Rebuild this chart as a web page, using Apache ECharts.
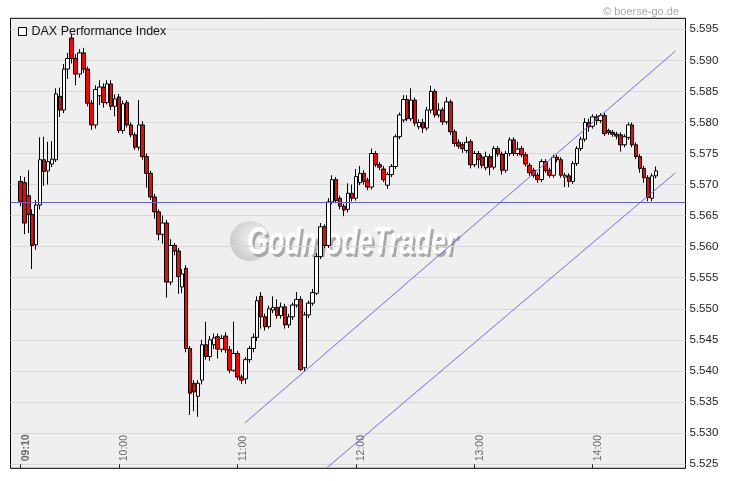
<!DOCTYPE html>
<html><head><meta charset="utf-8">
<script src="https://cdn.jsdelivr.net/npm/echarts@6/dist/echarts.min.js"></script>
<style>html,body{margin:0;padding:0;background:#fff}#c{width:730px;height:481px}</style>
</head><body><div id="c"></div>
<script>
// time slots (2-minute bars) shown on the axis
const firstSlot = '09:06';
const slotCount = 171;
const tickLabels = ['09:10','10:00','11:00','12:00','13:00','14:00'];
const yTicks = {min: 5525, max: 5595, step: 5};
const prevClose = 5567.2;
// [time, open, close, low, high]
const ohlc = [
['09:10',5570.5,5567.3,5566.5,5571.4],['09:12',5570.3,5563.8,5562.0,5571.2],['09:14',5568.2,5565.2,5562.2,5572.3],
['09:16',5565.2,5560.2,5556.4,5566.0],['09:18',5560.3,5566.7,5559.5,5567.5],['09:20',5566.7,5574.0,5566.0,5577.6],
['09:22',5574.0,5572.1,5569.8,5577.7],['09:24',5572.2,5573.7,5570.0,5576.9],['09:26',5573.3,5574.1,5572.8,5577.0],
['09:28',5574.0,5584.6,5573.6,5585.5],['09:30',5584.2,5582.0,5580.9,5585.6],['09:32',5582.0,5588.6,5581.5,5589.4],
['09:34',5588.6,5590.3,5587.0,5591.2],['09:36',5593.6,5590.3,5589.5,5594.3],['09:38',5590.3,5587.8,5586.0,5591.0],
['09:40',5587.8,5591.2,5587.2,5591.8],['09:42',5591.2,5588.6,5588.0,5592.0],['09:44',5588.6,5583.1,5582.6,5589.0],
['09:46',5583.1,5579.6,5578.8,5583.6],['09:48',5579.6,5585.3,5579.0,5586.0],['09:50',5584.3,5585.7,5582.8,5586.8],
['09:52',5585.7,5583.2,5582.4,5586.3],['09:54',5583.2,5586.2,5582.9,5586.8],['09:56',5586.2,5582.6,5582.0,5586.8],
['09:58',5582.6,5583.8,5581.0,5584.5],['10:00',5584.1,5578.7,5578.3,5584.6],['10:02',5578.7,5583.0,5578.2,5583.5],
['10:04',5583.2,5579.6,5579.2,5583.6],['10:06',5579.6,5578.0,5577.6,5580.0],['10:08',5578.0,5576.0,5575.6,5578.4],
['10:10',5576.0,5579.6,5575.5,5583.6],['10:12',5579.6,5574.5,5574.0,5580.2],['10:14',5574.5,5571.8,5569.5,5575.0],
['10:16',5571.8,5568.0,5567.5,5572.2],['10:18',5568.0,5565.6,5564.5,5568.5],['10:20',5565.6,5562.0,5561.0,5566.0],
['10:22',5562.0,5563.8,5560.5,5565.0],['10:24',5563.8,5554.3,5551.8,5564.3],['10:26',5554.3,5560.2,5553.8,5561.2],
['10:28',5560.2,5559.3,5558.6,5560.6],['10:30',5559.3,5555.2,5552.4,5559.8],['10:32',5553.5,5555.6,5552.5,5556.4],
['10:34',5556.5,5543.6,5543.0,5557.0],['10:36',5543.6,5536.4,5532.9,5544.0],['10:38',5538.0,5536.6,5533.5,5538.5],
['10:40',5535.9,5538.0,5532.6,5538.5],['10:42',5538.5,5544.2,5537.8,5545.0],['10:44',5544.2,5542.3,5541.8,5547.9],
['10:46',5542.3,5545.0,5541.6,5545.6],['10:48',5544.2,5545.3,5543.5,5546.0],['10:50',5545.5,5543.5,5542.0,5546.0],
['10:52',5543.5,5545.2,5543.0,5545.8],['10:54',5545.6,5543.4,5542.9,5546.2],['10:56',5543.4,5540.1,5539.6,5544.0],
['10:58',5540.1,5542.8,5539.8,5547.9],['11:00',5542.8,5539.0,5538.5,5543.2],['11:02',5539.0,5538.5,5537.9,5539.4],
['11:04',5538.7,5541.8,5537.9,5542.2],['11:06',5541.8,5543.6,5541.3,5544.0],['11:08',5543.6,5545.4,5543.0,5546.0],
['11:10',5545.4,5551.3,5544.8,5552.0],['11:12',5552.0,5548.7,5546.8,5552.7],['11:14',5548.7,5547.1,5546.5,5549.2],
['11:16',5547.1,5550.0,5546.8,5550.5],['11:18',5549.8,5550.2,5549.3,5552.0],['11:20',5550.2,5548.9,5548.4,5551.5],
['11:22',5548.9,5550.3,5548.4,5551.0],['11:24',5550.3,5547.4,5546.8,5550.8],['11:26',5547.4,5548.7,5546.9,5549.2],
['11:28',5548.7,5550.6,5548.2,5551.0],['11:30',5550.6,5551.5,5550.2,5552.7],['11:32',5551.5,5540.2,5540.0,5552.0],
['11:34',5540.5,5549.0,5540.0,5549.5],['11:36',5549.0,5550.9,5548.5,5551.3],['11:38',5550.9,5552.6,5550.5,5553.2],
['11:40',5552.5,5558.4,5552.2,5559.0],['11:42',5558.4,5563.2,5558.0,5563.8],['11:44',5563.2,5560.2,5559.8,5563.6],
['11:46',5560.2,5567.2,5559.8,5567.8],['11:48',5567.2,5570.8,5566.8,5571.5],['11:50',5570.8,5567.4,5567.0,5571.2],
['11:52',5567.8,5566.5,5566.0,5568.2],['11:54',5566.5,5565.9,5564.9,5566.9],['11:56',5566.0,5568.6,5565.5,5570.2],
['11:58',5568.6,5567.8,5567.3,5570.0],['12:00',5567.8,5571.3,5567.4,5572.5],['12:02',5570.3,5571.8,5569.9,5573.0],
['12:04',5571.8,5570.5,5570.0,5572.3],['12:06',5570.7,5569.6,5569.1,5571.1],['12:08',5569.6,5575.0,5569.2,5575.8],
['12:10',5575.0,5573.2,5572.8,5575.4],['12:12',5573.2,5572.8,5572.3,5573.6],['12:14',5572.5,5570.8,5570.4,5573.0],
['12:16',5569.9,5571.6,5569.3,5572.0],['12:18',5571.6,5572.9,5571.2,5573.3],['12:20',5572.9,5577.7,5572.5,5578.1],
['12:22',5577.7,5581.2,5577.3,5581.6],['12:24',5580.4,5583.7,5580.0,5584.4],['12:26',5583.7,5580.6,5580.2,5584.4],
['12:28',5580.6,5583.6,5580.2,5585.5],['12:30',5583.6,5579.9,5579.4,5584.0],['12:32',5579.3,5580.0,5578.9,5580.5],
['12:34',5580.0,5579.1,5578.3,5580.6],['12:36',5579.1,5582.0,5578.7,5582.5],['12:38',5582.0,5585.0,5581.5,5585.9],
['12:40',5585.0,5581.2,5580.8,5585.4],['12:42',5581.2,5582.0,5580.8,5583.1],['12:44',5582.0,5580.1,5579.6,5582.4],
['12:46',5580.1,5583.3,5579.7,5584.1],['12:48',5583.3,5578.5,5578.0,5583.7],['12:50',5578.5,5576.6,5576.1,5578.9],
['12:52',5576.8,5576.2,5575.8,5577.3],['12:54',5576.4,5575.8,5575.1,5576.8],['12:56',5575.5,5576.8,5575.1,5577.7],
['12:58',5576.9,5573.2,5572.6,5577.3],['13:00',5573.2,5575.0,5572.8,5575.4],['13:02',5575.0,5574.0,5572.6,5575.4],
['13:04',5574.4,5573.1,5572.6,5574.8],['13:06',5572.7,5574.5,5572.3,5575.3],['13:08',5574.5,5572.8,5571.5,5574.9],
['13:10',5572.8,5575.8,5572.4,5576.2],['13:12',5575.8,5574.9,5574.5,5576.2],['13:14',5574.9,5572.3,5571.6,5575.3],
['13:16',5572.3,5575.0,5571.9,5575.4],['13:18',5575.0,5577.2,5574.6,5577.6],['13:20',5577.2,5575.0,5574.6,5577.6],
['13:22',5575.0,5575.7,5574.6,5576.9],['13:24',5575.8,5574.8,5574.4,5576.2],['13:26',5574.8,5573.3,5572.9,5575.2],
['13:28',5573.1,5571.9,5571.4,5573.5],['13:30',5572.3,5571.5,5571.1,5572.7],['13:32',5571.5,5570.8,5570.3,5571.9],
['13:34',5570.8,5573.7,5570.4,5574.1],['13:36',5573.7,5572.3,5571.9,5574.1],['13:38',5572.3,5571.5,5571.1,5572.7],
['13:40',5571.5,5574.4,5571.1,5574.8],['13:42',5574.4,5574.0,5573.6,5574.8],['13:44',5574.0,5571.5,5571.1,5574.4],
['13:46',5571.2,5571.5,5569.6,5571.9],['13:48',5571.4,5570.5,5569.6,5571.8],['13:50',5570.5,5573.4,5570.1,5573.8],
['13:52',5573.4,5575.8,5573.0,5576.2],['13:54',5575.8,5577.3,5575.4,5577.7],['13:56',5577.3,5580.0,5576.9,5580.7],
['13:58',5580.0,5579.3,5578.5,5580.6],['14:00',5579.4,5580.9,5579.0,5581.3],['14:02',5580.9,5580.3,5579.6,5581.3],
['14:04',5580.3,5581.1,5579.9,5581.5],['14:06',5581.1,5578.2,5577.8,5581.5],['14:08',5578.7,5578.4,5578.0,5579.0],
['14:10',5578.4,5578.1,5577.7,5578.8],['14:12',5578.1,5577.8,5577.3,5578.5],['14:14',5578.0,5576.4,5575.3,5578.4],
['14:16',5576.4,5577.7,5576.0,5578.1],['14:18',5577.6,5579.6,5577.2,5580.0],['14:20',5579.6,5576.4,5576.0,5580.0],
['14:22',5576.4,5574.5,5574.1,5576.8],['14:24',5574.5,5572.6,5571.9,5574.9],['14:26',5572.6,5571.1,5570.3,5573.0],
['14:28',5571.1,5567.9,5567.3,5571.5],['14:30',5567.8,5571.4,5567.3,5571.8],['14:32',5571.4,5572.2,5571.0,5572.9]
];
// trend lines: [minutes after 09:00, price]
const upperTrend = [[123.7, 5531.6], [341.9, 5591.5]];
const lowerTrend = [[165.3, 5524.4], [341.9, 5571.9]];

const pad = n => (n < 10 ? '0' : '') + n;
const categories = [];
{
  const [h0, m0] = firstSlot.split(':').map(Number);
  for (let i = 0; i < slotCount; i++) {
    const t = h0 * 60 + m0 + 2 * i;
    categories.push(pad(Math.floor(t / 60)) + ':' + pad(t % 60));
  }
}
const byTime = {};
ohlc.forEach(r => { byTime[r[0]] = [r[1], r[2], r[3], r[4]]; });
const candleData = categories.map(c => byTime[c] || '-');
const [fh, fm] = firstSlot.split(':').map(Number);
const minuteMin = fh * 60 + fm - 1 - 540;
const minuteMax = minuteMin + slotCount * 2;

// plot geometry
const PL = 10.5, PT = 18.3, PW = 675, PH = 450;
const pxPerPt = 434.7 / 70;
const yMax = yTicks.max + (29.3 - PT) / pxPerPt;
const yMin = yTicks.min - (PT + PH - 464) / pxPerPt;

const chart = echarts.init(document.getElementById('c'), null, {renderer: 'canvas'});
const FONT = '"Liberation Sans", Arial, sans-serif';
const WM_FONT = 'italic bold 38px "Liberation Sans", Arial, sans-serif';
chart.setOption({
  animation: false,
  backgroundColor: '#ffffff',
  title: {text: '\u00a9 boerse-go.de', right: 46, top: 1,
    textStyle: {fontSize: 11, color: '#a8a8a8', fontWeight: 'normal', fontFamily: FONT}},
  legend: {left: 13, top: 20, itemWidth: 8, itemHeight: 8, itemGap: 6, selectedMode: false,
    textStyle: {fontSize: 12.5, color: '#111', fontFamily: FONT, padding: [0, 0, 0, 0]},
    data: [{name: 'DAX Performance Index', icon: 'rect',
      itemStyle: {color: '#ffffff', borderColor: '#000', borderWidth: 1}}]},
  grid: [
    {left: PL, top: PT, width: PW, height: PH, show: true, backgroundColor: '#efefef',
      borderColor: '#000', borderWidth: 1},
    {left: PL, top: 29.3, width: PW, height: 434.7, show: false}
  ],
  xAxis: [
    {type: 'category', gridIndex: 0, data: categories, boundaryGap: true,
      axisLine: {show: false},
      axisTick: {show: true, inside: true, length: 4, alignWithLabel: true,
        interval: (i, v) => tickLabels.includes(v), lineStyle: {color: '#222'}},
      axisLabel: {show: true, inside: true, rotate: 90, margin: 7, align: 'left', verticalAlign: 'top',
        interval: (i, v) => tickLabels.includes(v),
        formatter: v => v === tickLabels[0] ? '{b|' + v + '}' : v,
        color: '#6a6a6a', fontSize: 10.5, fontFamily: FONT,
        rich: {b: {fontWeight: 'bold', color: '#6a6a6a', fontSize: 10.5, fontFamily: FONT}}},
      splitLine: {show: false}},
    {type: 'value', gridIndex: 0, min: minuteMin, max: minuteMax, show: false},
    {type: 'value', gridIndex: 1, min: 0, max: 1, show: false}
  ],
  yAxis: [
    {type: 'value', gridIndex: 0, min: yMin, max: yMax, show: false, splitLine: {show: false}},
    {type: 'value', gridIndex: 1, position: 'right', min: yTicks.min, max: yTicks.max, interval: yTicks.step,
      axisLine: {show: false}, axisTick: {show: false},
      axisLabel: {margin: 4, color: '#222', fontSize: 11.5, fontFamily: FONT,
        formatter: v => (v / 1000).toFixed(3)},
      splitLine: {show: true, lineStyle: {color: '#d8d8d8', width: 1}}}
  ],
  graphic: [{
    type: 'group', z: 1, silent: true,
    children: [
      {type: 'circle', shape: {cx: 250, cy: 241, r: 20},
        style: {fill: {type: 'radial', x: 0.62, y: 0.42, r: 0.75,
          colorStops: [{offset: 0, color: '#f6f6f6'}, {offset: 1, color: '#c2c2c2'}]}}},
      {type: 'text', x: 249.5, y: 246.5, scaleX: 0.71,
        style: {text: 'GodmodeTrader', font: WM_FONT, fill: '#a9a9a9', verticalAlign: 'middle', align: 'left'}},
      {type: 'text', x: 247, y: 244, scaleX: 0.71,
        style: {text: 'GodmodeTrader', font: WM_FONT, fill: '#ffffff', verticalAlign: 'middle', align: 'left'}}
    ]
  }],
  series: [
    {name: 'DAX Performance Index', type: 'candlestick', xAxisIndex: 0, yAxisIndex: 0, z: 3,
      data: candleData, barWidth: 4,
      itemStyle: {color: '#ffffff', color0: '#ff0000', borderColor: '#000000', borderColor0: '#000000', borderWidth: 1},
      markLine: {silent: true, symbol: 'none', label: {show: false},
        lineStyle: {color: '#6464c8', width: 1, type: 'solid'},
        data: [{yAxis: prevClose}]}},
    {type: 'line', xAxisIndex: 1, yAxisIndex: 0, data: upperTrend, symbol: 'none', z: 4,
      lineStyle: {color: '#6a6aff', width: 1}, clip: true},
    {type: 'line', xAxisIndex: 1, yAxisIndex: 0, data: lowerTrend, symbol: 'none', z: 4,
      lineStyle: {color: '#6a6aff', width: 1}, clip: true}
  ]
});
</script></body></html>
